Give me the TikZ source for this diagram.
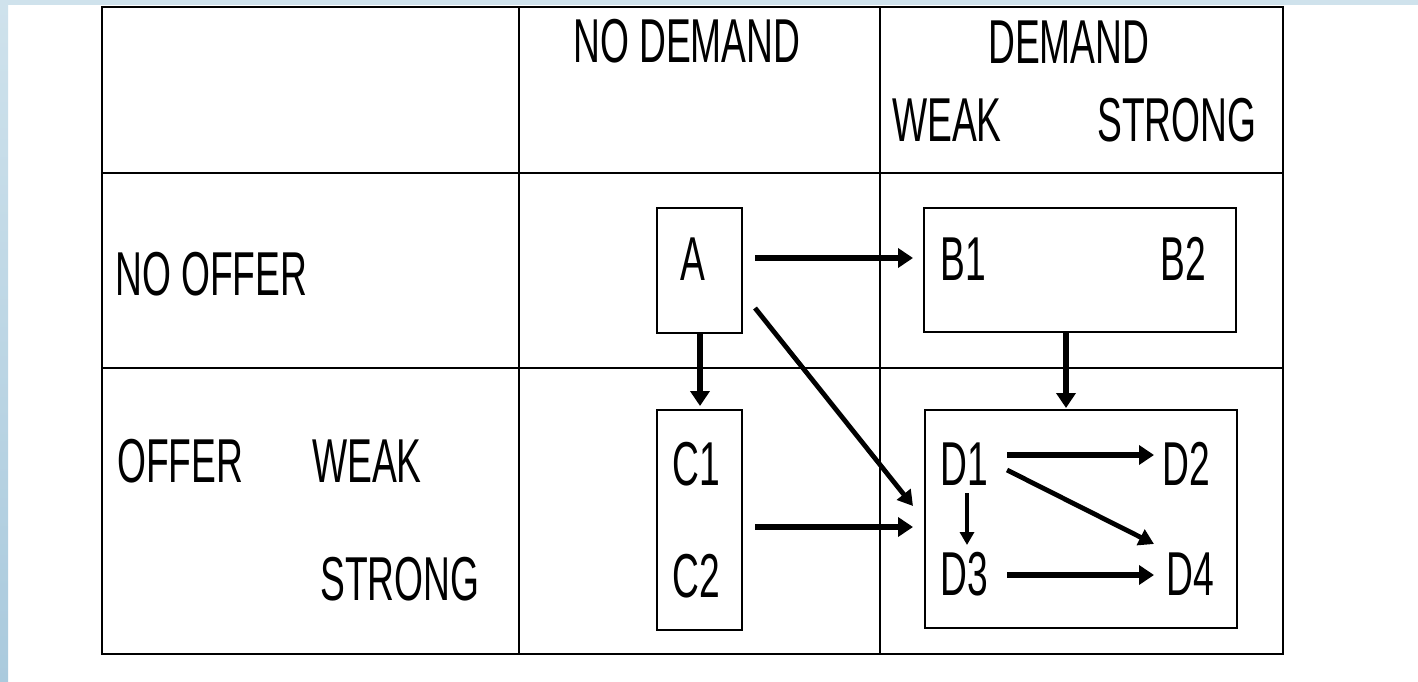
\documentclass[tikz,border=0pt]{standalone}
\usepackage{fontspec}
\newfontfamily\labfont[FakeStretch=0.6]{Liberation Sans}
\usetikzlibrary{arrows.meta}
\definecolor{bgblue}{HTML}{CFE2EC}
\definecolor{bgblue2}{HTML}{AACADD}
\begin{document}
\begin{tikzpicture}[x=1pt,y=-1pt,
  lab/.style={font=\labfont\fontsize{62}{62}\selectfont, inner sep=0pt, anchor=base west},
  gridline/.style={line width=2.5pt},
  boxst/.style={draw, line width=2.5pt, inner sep=0pt},
  arr/.style={line width=6pt, -{Triangle[length=15pt,width=19pt]}},
  diagarr/.style={line width=4.8pt, -{Triangle[length=15pt,width=17pt]}},
  thinarr/.style={line width=3.5pt, -{Triangle[length=13pt,width=14pt]}}]
\useasboundingbox (0,0) rectangle (1418,682);
\fill[white] (0,0) rectangle (1418,682);
\fill[bgblue] (0,0) rectangle (1418,5);
\shade[top color=bgblue, bottom color=bgblue2] (0,0) rectangle (8,682);
% table
\draw[gridline] (102,7) rectangle (1283,654);
\draw[gridline] (519,7) -- (519,654);
\draw[gridline] (880,7) -- (880,654);
\draw[gridline] (102,173) -- (1283,173);
\draw[gridline] (102,368) -- (1283,368);
% header texts
\node[lab] (nodem) at (573,63) {NO DEMAND};
\node[lab] (dem) at (988,64) {DEMAND};
\node[lab] (dweak) at (892,142) {WEAK};
\node[lab] (dstrong) at (1097,142) {STRONG};
\node[lab] (nooffer) at (115,295) {NO OFFER};
\node[lab] (offer) at (117,482) {OFFER};
\node[lab] (oweak) at (312,482) {WEAK};
\node[lab] (ostrong) at (320,600) {STRONG};
% boxes
\node[boxst, minimum width=85pt, minimum height=125pt] (boxA) at (699.5,270.5) {};
\node[boxst, minimum width=312pt, minimum height=124pt] (boxB) at (1080,270) {};
\node[boxst, minimum width=85pt, minimum height=220pt] (boxC) at (699.5,520) {};
\node[boxst, minimum width=312pt, minimum height=218pt] (boxD) at (1081,519) {};
% box texts
\node[lab] (A) at (680,280) {A};
\node[lab] (B1) at (940,280) {B1};
\node[lab] (B2) at (1160,280) {B2};
\node[lab] (C1) at (672,485) {C1};
\node[lab] (C2) at (672,597) {C2};
\node[lab] (D1) at (940,485) {D1};
\node[lab] (D2) at (1162,485) {D2};
\node[lab] (D3) at (940,595) {D3};
\node[lab] (D4) at (1166,595) {D4};
% connector end points
\coordinate (ab0) at (755,258);
\coordinate (ab1) at (913,258);
\coordinate (ac0) at (700,333);
\coordinate (ac1) at (700,406);
\coordinate (ad0) at (755,308);
\coordinate (ad1) at (913,506);
\coordinate (cd0) at (755,527);
\coordinate (cd1) at (913,527);
\coordinate (bd0) at (1066,333);
\coordinate (bd1) at (1066,408);
\coordinate (d12a) at (1007,455);
\coordinate (d12b) at (1154,455);
\coordinate (d14a) at (1007,470);
\coordinate (d14b) at (1154,544);
\coordinate (d13a) at (967,493);
\coordinate (d13b) at (967,545);
\coordinate (d34a) at (1007,575);
\coordinate (d34b) at (1154,575);
% arrows
\draw[arr] (ab0) -- (ab1);
\draw[arr] (ac0) -- (ac1);
\draw[diagarr] (ad0) -- (ad1);
\draw[arr] (cd0) -- (cd1);
\draw[arr] (bd0) -- (bd1);
\draw[arr] (d12a) -- (d12b);
\draw[diagarr] (d14a) -- (d14b);
\draw[thinarr] (d13a) -- (d13b);
\draw[arr] (d34a) -- (d34b);
\end{tikzpicture}
\end{document}
